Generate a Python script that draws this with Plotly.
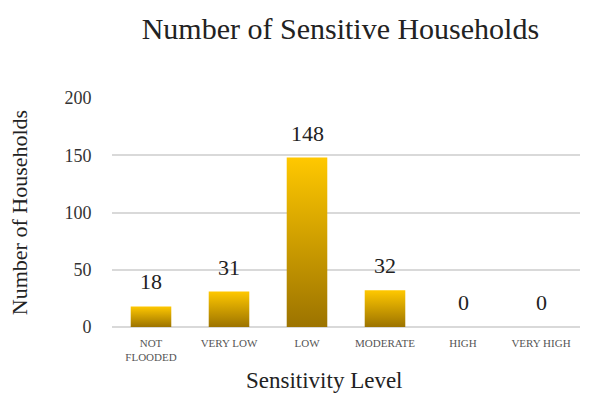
import plotly.graph_objects as go

categories = ["NOT<br>FLOODED", "VERY LOW", "LOW", "MODERATE", "HIGH", "VERY HIGH"]
values = [18, 31, 148, 32, 0, 0]
y_ticks = [0, 50, 100, 150, 200]

half_w = 0.26
fig = go.Figure()
for i, v in enumerate(values):
    if v <= 0:
        continue
    xs = [i - half_w, i + half_w, i + half_w, i - half_w, i - half_w]
    ys = [0, 0, v, v, 0]
    fig.add_trace(go.Scatter(
        x=xs, y=ys, mode="lines", fill="toself",
        line=dict(width=0, color="rgba(0,0,0,0)"),
        fillgradient=dict(type="vertical",
                          colorscale=[[0, "#9c7300"], [1, "#ffc800"]]),
        hoverinfo="skip", showlegend=False))

for i, v in enumerate(values):
    fig.add_annotation(x=i, y=v, text=str(v), showarrow=False,
                       yanchor="bottom", yshift=10,
                       font=dict(family="Liberation Serif", size=22, color="#222"))

fig.add_annotation(text="Sensitivity Level", xref="paper", yref="paper",
                   x=0.453, y=-0.235, xanchor="center", yanchor="middle",
                   showarrow=False,
                   font=dict(family="Liberation Serif", size=23, color="#222"))

fig.update_layout(
    width=592, height=404,
    margin=dict(l=112, r=12, t=98, b=77),
    paper_bgcolor="white", plot_bgcolor="white",
    title=dict(text="Number of Sensitive Households", x=0.575, xanchor="center",
               y=0.93, yanchor="middle",
               font=dict(family="Liberation Serif", size=30, color="#222")),
    font=dict(family="Liberation Serif"),
    xaxis=dict(range=[-0.5, len(values) - 0.5], tickmode="array",
               tickvals=list(range(len(values))), ticktext=categories,
               showgrid=False, zeroline=False, showline=False, ticks="",
               ticklabelstandoff=8,
               tickfont=dict(family="Liberation Serif", size=11, color="#555")),
    yaxis=dict(range=[0, 200], tickmode="array", tickvals=y_ticks,
               showgrid=True, gridcolor="#d9d9d9", gridwidth=1.5,
               zeroline=True, zerolinecolor="#d9d9d9", zerolinewidth=1.5,
               ticks="outside", ticklen=16, tickcolor="white",
               tickfont=dict(family="Liberation Serif", size=18, color="#333"),
               title=dict(text="Number of Households", standoff=30,
                          font=dict(family="Liberation Serif", size=22, color="#222"))),
)

fig.write_html("out.html")
